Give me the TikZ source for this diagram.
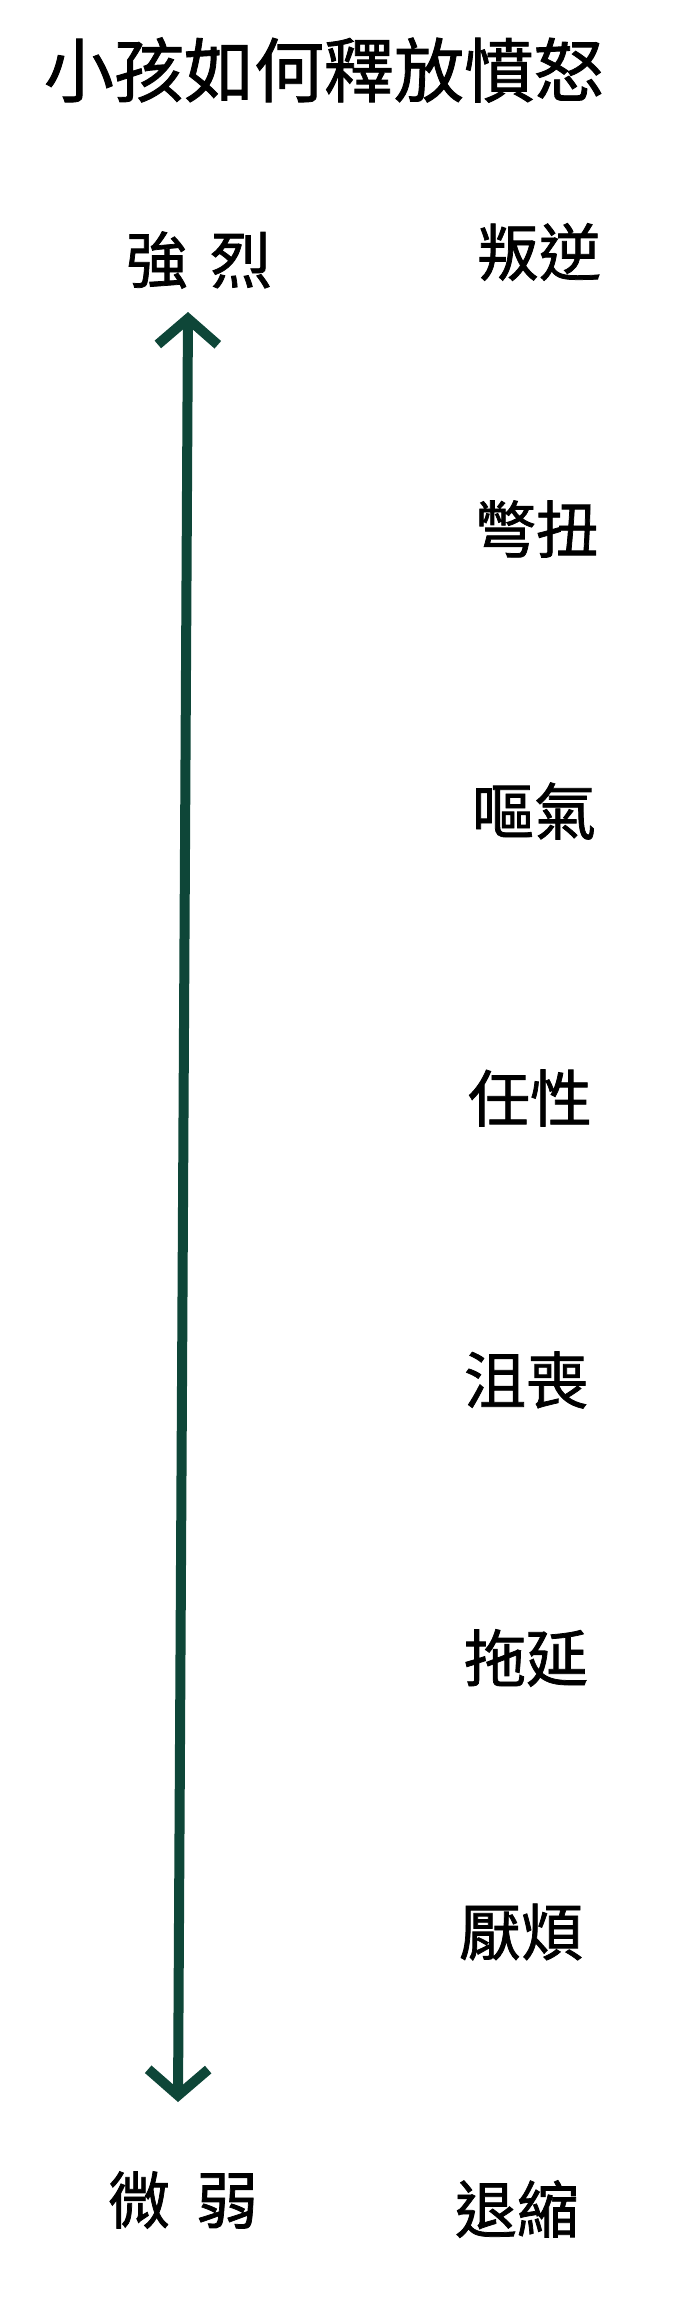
\documentclass[tikz,border=0pt]{standalone}
\usepackage{fontspec}
\setmainfont{Noto Sans CJK TC}
\newfontfamily\inkfont{Noto Sans CJK TC}[FakeBold=1.2]
\usetikzlibrary{arrows.meta}
\usepackage{xcolor}
\definecolor{inkgreen}{RGB}{14,70,56}

\begin{document}
\begin{tikzpicture}[x=0.5pt,y=-0.5pt,
  emo/.style={font=\fontsize{31}{31}\inkfont, inner sep=0},
  pole/.style={font=\fontsize{31}{31}\inkfont, inner sep=0}]
\useasboundingbox (0,0) rectangle (678,2319);
\node[inner sep=0, font=\fontsize{35}{35}\inkfont] (title) at (324,70) {小孩如何釋放憤怒};
\node[pole] (strong) at (199,260) {強\hspace{11pt}烈};
\node[pole] (weak) at (183,2200) {微\hspace{13pt}弱};
\foreach \lx/\ly/\txt/\nm in {539/252/叛逆/rebel, 536/529/彆扭/awkward, 534/811/嘔氣/sulk,
  530/1098/任性/willful, 526/1380/沮喪/upset, 526/1658/拖延/delay,
  521/1932/厭煩/bored, 517/2209/退縮/withdraw} {
 \node[emo] (\nm) at (\lx,\ly) {\txt};
}
\coordinate (hi) at (188,312);
\coordinate (lo) at (178,2102);
\draw[inkgreen, line width=5pt, line cap=round,
  {Straight Barb[length=13pt,width=30pt,line width=5pt]}-{Straight Barb[length=13pt,width=30pt,line width=5pt]}]
  (hi) -- (lo);
\end{tikzpicture}
\end{document}
